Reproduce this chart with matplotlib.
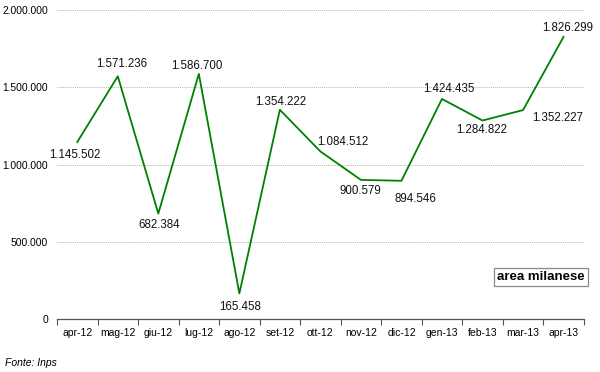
import matplotlib.pyplot as plt
import numpy as np

plt.rcParams['font.family'] = ['Liberation Sans', 'DejaVu Sans']

# dati
mesi = ['apr-12', 'mag-12', 'giu-12', 'lug-12', 'ago-12', 'set-12', 'ott-12',
        'nov-12', 'dic-12', 'gen-13', 'feb-13', 'mar-13', 'apr-13']
valori = [1145502, 1571236, 682384, 1586700, 165458, 1354222, 1084512,
          900579, 894546, 1424435, 1284822, 1352227, 1826299]
etichette = ['1.145.502', '1.571.236', '682.384', '1.586.700', '165.458', '1.354.222',
             '1.084.512', '900.579', '894.546', '1.424.435', '1.284.822', '1.352.227',
             '1.826.299']
yticks = [0, 500000, 1000000, 1500000, 2000000]
ytick_labels = ['0', '500.000', '1.000.000', '1.500.000', '2.000.000']

# spostamento delle etichette (pixel)
offsets = [(-2, -13), (4, 12), (1, -11), (-2, 8), (1, -14), (1, 8), (22, 9),
           (-1, -11), (14, -18), (7, 10), (-1, -9), (35, -8), (4, 9)]

fig = plt.figure(figsize=(6, 3.72), dpi=100)
ax = fig.add_axes([0.095, 0.1425, 0.878, 0.8305])

x = np.arange(len(mesi))
ax.plot(x, valori, color='#008000', linewidth=1.3)

for xi, v, lab, off in zip(x, valori, etichette, offsets):
    ax.annotate(lab, (xi, v), xytext=off, textcoords='offset pixels',
                ha='center', va='center', fontsize=8.3, color='#111111')

ax.set_xlim(-0.5, len(mesi) - 0.5)
ax.set_ylim(0, 2000000)
ax.set_yticks(yticks)
ax.set_yticklabels(ytick_labels)
ax.set_xticks(x)
ax.set_xticklabels(mesi)
ax.set_xticks(np.arange(len(mesi) + 1) - 0.5, minor=True)
ax.tick_params(axis='x', which='major', length=0, pad=6.5, labelsize=7.5)
ax.tick_params(axis='x', which='minor', length=4, color='#555555', width=0.8)
ax.tick_params(axis='y', length=0, pad=6.5, labelsize=7.4)

ax.grid(axis='y', linestyle=(0, (1, 1)), color='#b5b5b5', linewidth=0.7)
for s in ['top', 'right', 'left']:
    ax.spines[s].set_visible(False)
ax.spines['bottom'].set_color('#555555')
ax.spines['bottom'].set_linewidth(0.9)

fig.text(541 / 600, 1 - 277 / 372, 'area milanese', ha='center', va='center',
         fontsize=9.5, fontweight='bold',
         bbox=dict(boxstyle='square,pad=0.25', fc='white', ec='#888888', lw=0.9))
fig.text(5 / 600, 1 - 363 / 372, 'Fonte: Inps', ha='left', va='center',
         fontsize=7.5, style='italic')

plt.savefig('out.png', dpi=100)
